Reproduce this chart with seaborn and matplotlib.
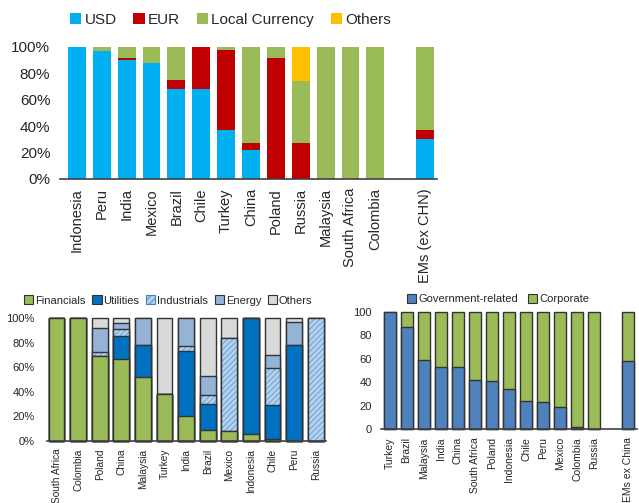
import numpy as np
import matplotlib.pyplot as plt
import seaborn as sns
from matplotlib.patches import Patch

plt.rcParams['font.family'] = ['Liberation Sans', 'DejaVu Sans']
plt.rcParams['hatch.linewidth'] = 0.6
TXT = '#262626'

# top: currency split of EM bonds (%)
cur_countries = ["Indonesia", "Peru", "India", "Mexico", "Brazil", "Chile", "Turkey", "China",
                 "Poland", "Russia", "Malaysia", "South Africa", "Colombia", "EMs (ex CHN)"]
cur_usd = [100, 97, 90, 88, 68, 68, 37, 22, 0, 0, 0, 0, 0, 30]
cur_eur = [0, 0, 2, 0, 7, 32, 61, 5, 92, 27, 0, 0, 0, 7]
cur_local = [0, 3, 8, 12, 25, 0, 2, 73, 8, 47, 100, 100, 100, 63]
cur_others = [0, 0, 0, 0, 0, 0, 0, 0, 0, 26, 0, 0, 0, 0]
cur_names = ["USD", "EUR", "Local Currency", "Others"]
cur_colors = ["#00B0F0", "#C00000", "#9BBB59", "#FFC000"]

# bottom left: sector split (%)
sec_countries = ["South Africa", "Colombia", "Poland", "China", "Malaysia", "Turkey", "India",
                 "Brazil", "Mexico", "Indonesia", "Chile", "Peru", "Russia"]
sec_fin = [100, 100, 69, 67, 52, 38, 20, 9, 8, 6, 2, 0, 0]
sec_util = [0, 0, 0, 18, 26, 0, 53, 21, 0, 94, 27, 78, 0]
sec_ind = [0, 0, 3, 6, 0, 0, 4, 7, 76, 0, 30, 0, 100]
sec_energy = [0, 0, 20, 5, 22, 0, 23, 16, 0, 0, 11, 19, 0]
sec_others = [0, 0, 8, 4, 0, 62, 0, 47, 16, 0, 30, 3, 0]
sec_names = ["Financials", "Utilities", "Industrials", "Energy", "Others"]
sec_colors = ["#9BBB59", "#0070C0", "#B4D2EE", "#95B3D7", "#D9D9D9"]

# bottom right: issuer type (%)
iss_countries = ["Turkey", "Brazil", "Malaysia", "India", "China", "South Africa", "Poland",
                 "Indonesia", "Chile", "Peru", "Mexico", "Colombia", "Russia", "EMs ex China"]
iss_gov = [100, 87, 59, 53, 53, 42, 41, 34, 24, 23, 19, 2, 0, 58]
iss_corp = [100 - g for g in iss_gov]
iss_names = ["Government-related", "Corporate"]
iss_colors = ["#4F81BD", "#9BBB59"]

EDGE = '#333333'

fig = plt.figure(figsize=(6.39, 5.03), dpi=100)


def style_axis(ax, fs, xfs, xpad, ypad, pct=True):
    ax.set_xlabel("")
    ax.set_ylabel("")
    for s in ["top", "right", "left"]:
        ax.spines[s].set_visible(False)
    ax.spines["bottom"].set_color('#404040')
    ax.spines["bottom"].set_linewidth(1.2)
    ax.set_ylim(0, 100)
    ax.set_yticks(range(0, 101, 20))
    ax.set_yticklabels([f"{v}%" if pct else str(v) for v in range(0, 101, 20)])
    ax.tick_params(axis="x", rotation=90, length=0, pad=xpad, labelsize=xfs, colors=TXT)
    ax.tick_params(axis="y", length=0, pad=ypad, labelsize=fs, colors=TXT)


# ---- top chart
ax1 = fig.add_axes([60 / 639, 1 - 179 / 503, 377 / 639, 132 / 503])
order1 = cur_countries[:-1] + [" "] + cur_countries[-1:]
cum1 = np.cumsum([cur_usd, cur_eur, cur_local, cur_others], axis=0)
for i in range(3, -1, -1):
    sns.barplot(x=cur_countries, y=cum1[i], order=order1, color=cur_colors[i], saturation=1,
                width=0.72, errorbar=None, linewidth=0, ax=ax1)
style_axis(ax1, 11, 10.5, 6.5, 7)
ax1.set_xlim(-0.68, 14.48)
fig.legend(handles=[Patch(facecolor=c, label=n) for c, n in zip(cur_colors, cur_names)],
           loc="center left", bbox_to_anchor=(70 / 639, 1 - 20 / 503), ncol=4, frameon=False,
           fontsize=11, handlelength=0.75, handleheight=0.7, handletextpad=0.2,
           columnspacing=1.1, borderpad=0, borderaxespad=0, labelcolor=TXT)

# ---- bottom left chart
ax2 = fig.add_axes([47 / 639, 1 - 441 / 503, 279.5 / 639, 123 / 503])
cum2 = np.cumsum([sec_fin, sec_util, sec_ind, sec_energy, sec_others], axis=0)
bw = 0.74
sns.barplot(x=sec_countries, y=cum2[4], color=sec_colors[4], saturation=1, width=bw,
            errorbar=None, edgecolor=EDGE, linewidth=1, ax=ax2)
sns.barplot(x=sec_countries, y=cum2[3], color=sec_colors[3], saturation=1, width=bw,
            errorbar=None, edgecolor=EDGE, linewidth=1, ax=ax2)
sns.barplot(x=sec_countries, y=cum2[2], color=sec_colors[2], saturation=1, width=bw,
            errorbar=None, edgecolor='#5B9BD5', hatch='//////', linewidth=0, ax=ax2)
sns.barplot(x=sec_countries, y=cum2[2], color=EDGE, fill=False, width=bw,
            errorbar=None, linewidth=1, ax=ax2)
sns.barplot(x=sec_countries, y=cum2[1], color=sec_colors[1], saturation=1, width=bw,
            errorbar=None, edgecolor=EDGE, linewidth=1, ax=ax2)
sns.barplot(x=sec_countries, y=cum2[0], color=sec_colors[0], saturation=1, width=bw,
            errorbar=None, edgecolor=EDGE, linewidth=1, ax=ax2)
style_axis(ax2, 8, 7.3, 5.5, 9)
ax2.set_xlim(-0.44, 12.5)
for p in ax2.patches:
    p.set_clip_on(False)
sec_handles = []
for c, n in zip(sec_colors, sec_names):
    if n == "Industrials":
        sec_handles.append(Patch(facecolor=c, edgecolor='#4A7FB5', hatch='/////', linewidth=0.8, label=n))
    else:
        sec_handles.append(Patch(facecolor=c, edgecolor=EDGE, linewidth=0.8, label=n))
fig.legend(handles=sec_handles, loc="center left", bbox_to_anchor=(24 / 639, 1 - 300.5 / 503),
           ncol=5, frameon=False, fontsize=8, handlelength=0.85, handleheight=0.85,
           handletextpad=0.15, columnspacing=0.6, borderpad=0, borderaxespad=0, labelcolor=TXT)

# ---- bottom right chart
ax3 = fig.add_axes([381 / 639, 1 - 429 / 503, 256 / 639, 117 / 503])
order3 = iss_countries[:-1] + [" "] + iss_countries[-1:]
cum3 = np.cumsum([iss_gov, iss_corp], axis=0)
for i in range(1, -1, -1):
    sns.barplot(x=iss_countries, y=cum3[i], order=order3, color=iss_colors[i], saturation=1,
                width=0.7, errorbar=None, edgecolor=EDGE, linewidth=1, ax=ax3)
style_axis(ax3, 8, 7.5, 6, 6.5, pct=False)
ax3.set_xlim(-0.5, 14.5)
for p in ax3.patches:
    p.set_clip_on(False)
fig.legend(handles=[Patch(facecolor=c, edgecolor=EDGE, linewidth=0.8, label=n)
                    for c, n in zip(iss_colors, iss_names)],
           loc="center left", bbox_to_anchor=(407 / 639, 1 - 299 / 503), ncol=2, frameon=False,
           fontsize=8, handlelength=0.85, handleheight=0.85, handletextpad=0.15,
           columnspacing=0.9, borderpad=0, borderaxespad=0, labelcolor=TXT)

fig.savefig("out.png", dpi=100)
